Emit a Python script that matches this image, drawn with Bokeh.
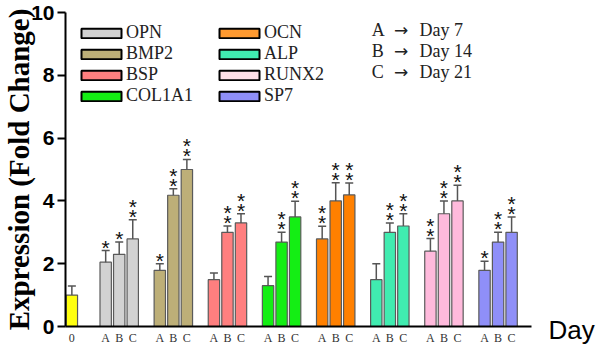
from bokeh.plotting import figure
from bokeh.models import (ColumnDataSource, Whisker, TeeHead, Legend, LegendItem,
                          Label, FixedTicker, Range1d, LinearAxis)
from bokeh.core.properties import value
from bokeh.embed import file_html
from bokeh.resources import INLINE

# ---------------- data ----------------
genes = ["OPN", "BMP2", "BSP", "COL1A1", "OCN", "ALP", "RUNX2", "SP7"]
days = ["A", "B", "C"]
day_names = ["Day 7", "Day 14", "Day 21"]
x_name = "Day"
control_mean = 1.0
control_err = 0.29

opn = [2.05, 2.30, 2.79]
bmp2 = [1.79, 4.18, 5.00]
bsp = [1.49, 3.00, 3.30]
col1a1 = [1.30, 2.69, 3.49]
ocn = [2.79, 4.00, 4.19]
alp = [1.49, 3.00, 3.20]
runx2 = [2.40, 3.59, 4.00]
sp7 = [1.79, 2.69, 3.00]

opn_err = [0.37, 0.39, 0.61]
bmp2_err = [0.21, 0.21, 0.32]
bsp_err = [0.21, 0.20, 0.29]
col1a1_err = [0.29, 0.31, 0.50]
ocn_err = [0.40, 0.58, 0.38]
alp_err = [0.51, 0.30, 0.39]
runx2_err = [0.40, 0.41, 0.50]
sp7_err = [0.29, 0.31, 0.49]

# number of significance stars per bar
opn_sig = [1, 1, 2]
bmp2_sig = [1, 2, 2]
bsp_sig = [0, 2, 2]
col1a1_sig = [0, 2, 2]
ocn_sig = [2, 2, 2]
alp_sig = [0, 2, 2]
runx2_sig = [2, 2, 2]
sp7_sig = [1, 2, 2]

bar_colors = ["#D2D2D2", "#BDAF78", "#FF7F7F", "#14EE14", "#FF8000", "#40ECB0", "#FFBADC", "#8F8FF8"]
legend_colors = ["#D2D2D2", "#BDAF78", "#FF7F7F", "#14EE14", "#FF9A30", "#40ECB0", "#FFE0E8", "#8F8FF8"]
control_color = "#FFFF10"

means = [opn, bmp2, bsp, col1a1, ocn, alp, runx2, sp7]
errs = [opn_err, bmp2_err, bsp_err, col1a1_err, ocn_err, alp_err, runx2_err, sp7_err]
sigs = [opn_sig, bmp2_sig, bsp_sig, col1a1_sig, ocn_sig, alp_sig, runx2_sig, sp7_sig]

# ---------------- layout of bars ----------------
xs, tops, uppers, cols, nsig = [0.0], [control_mean], [control_mean + control_err], [control_color], [0]
tick_pos, tick_lab = [0.0], {0.0: "0"}
for g in range(len(genes)):
    for d in range(3):
        x = 2.5 + 4 * g + d
        xs.append(x)
        tops.append(means[g][d])
        uppers.append(means[g][d] + errs[g][d])
        cols.append(bar_colors[g])
        nsig.append(sigs[g][d])
        tick_pos.append(x)
        tick_lab[x] = days[d]

src = ColumnDataSource(dict(x=xs, top=tops, upper=uppers, color=cols))

p = figure(width=600, height=350, output_backend="svg", toolbar_location=None,
           x_range=Range1d(-0.47, 39.07), y_range=Range1d(0, 10),
           min_border_left=62, min_border_right=0, min_border_top=12, min_border_bottom=24)
p.outline_line_color = None
p.grid.grid_line_color = None
p.background_fill_color = "white"

p.vbar(x="x", top="top", width=0.84, bottom=0, fill_color="color",
       line_color="#5A5A5A", line_width=1.2, source=src)

wh = Whisker(base="x", lower="top", upper="upper", source=src,
             line_color="#555555", line_width=1.5,
             upper_head=TeeHead(size=8, line_color="#555555", line_width=1.5),
             lower_head=None, level="glyph")
p.add_layout(wh)

# stars
s1 = ColumnDataSource(dict(x=[x for x, n in zip(xs, nsig) if n >= 1],
                           y=[u for u, n in zip(uppers, nsig) if n >= 1],
                           t=["*" for n in nsig if n >= 1]))
s2 = ColumnDataSource(dict(x=[x for x, n in zip(xs, nsig) if n >= 2],
                           y=[u for u, n in zip(uppers, nsig) if n >= 2],
                           t=["*" for n in nsig if n >= 2]))
for s, off in ((s1, -3.5), (s2, -13.5)):
    p.text(x="x", y="y", text="t", source=s, text_align="center", text_baseline="middle",
           y_offset=off, text_font=value("Liberation Sans"), text_font_size="21px",
           text_color="#111111")

# axes
p.yaxis.ticker = FixedTicker(ticks=[0, 2, 4, 6, 8, 10])
p.yaxis.axis_label = "Expression (Fold Change)"
p.yaxis.axis_label_text_font = "Liberation Serif"
p.yaxis.axis_label_text_font_style = "bold"
p.yaxis.axis_label_text_font_size = "29px"
p.yaxis.axis_label_text_color = "black"
p.yaxis.axis_label_standoff = -7
p.yaxis.major_label_text_font = "Liberation Sans"
p.yaxis.major_label_text_font_style = "bold"
p.yaxis.major_label_text_font_size = "21px"
p.yaxis.major_label_text_color = "black"
p.yaxis.major_label_standoff = 3
p.yaxis.axis_line_width = 2
p.yaxis.major_tick_line_width = 2
p.yaxis.major_tick_out = 8
p.yaxis.major_tick_in = 0
p.yaxis.minor_tick_line_color = None

xa = p.xaxis[0]
xa.bounds = (-0.47, 34.0)
xa.ticker = FixedTicker(ticks=tick_pos)
xa.major_label_overrides = tick_lab
xa.major_label_text_font = "Liberation Serif"
xa.major_label_text_font_size = "12px"
xa.major_label_text_color = "#333333"
xa.major_label_standoff = 4
xa.axis_line_width = 2
xa.major_tick_out = 0
xa.major_tick_in = 0
xa.major_tick_line_color = None
xa.minor_tick_line_color = None

# second bottom axis whose single tick label is the x-axis name "Day", right of the bars
day_pos = 36.94
day_axis = LinearAxis(ticker=FixedTicker(ticks=[day_pos]),
                      major_label_overrides={day_pos: x_name},
                      axis_line_color=None, major_tick_line_color=None, minor_tick_line_color=None,
                      major_tick_out=0, major_tick_in=0, major_label_standoff=-33,
                      major_label_text_font="Liberation Sans", major_label_text_font_size="26px",
                      major_label_text_color="black")
p.add_layout(day_axis, "below")

# legend with swatch-only renderers (NaN data so nothing is drawn in the plot)
nan = float("nan")
items = []
for g, name in enumerate(genes):
    r = p.vbar(x=[nan], top=[nan], width=0.8, fill_color=legend_colors[g], line_color="black", line_width=2)
    items.append(LegendItem(label=name, renderers=[r]))
leg = Legend(items=items, location=(11, 220), orientation="vertical", nrows=4,
             glyph_width=50, glyph_height=12, label_height=21, label_width=88,
             label_standoff=-2, spacing=0, padding=0, margin=0,
             border_line_alpha=0, background_fill_alpha=0,
             label_text_font="Liberation Serif", label_text_font_size="18px",
             label_text_color="#222222")
p.add_layout(leg)

# day key: letter, arrow, day name
for i in range(3):
    yk = 9.43 - 0.67 * i
    p.add_layout(Label(x=22.17, y=yk, text=days[i], text_baseline="middle",
                       text_font="Liberation Serif", text_font_size="18px", text_color="#222222"))
    p.add_layout(Label(x=23.8, y=yk, text="\u2192", text_baseline="middle",
                       text_font="DejaVu Sans", text_font_size="17px", text_color="#222222"))
    p.add_layout(Label(x=25.69, y=yk, text=day_names[i], text_baseline="middle",
                       text_font="Liberation Serif", text_font_size="18px", text_color="#222222"))

open("out.html", "w").write(file_html(p, INLINE))
